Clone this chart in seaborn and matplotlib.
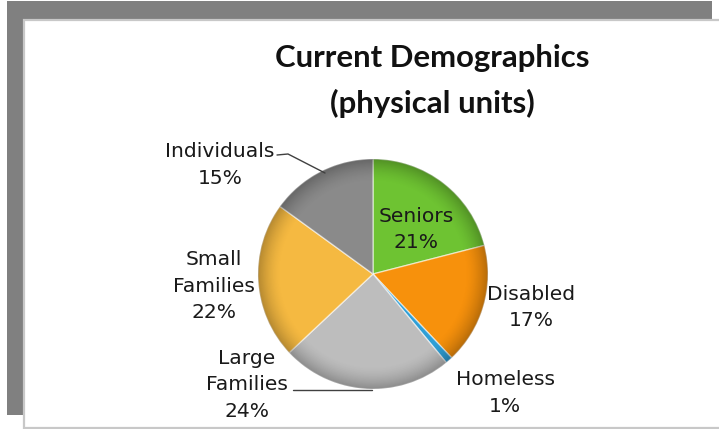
import numpy as np
import matplotlib
matplotlib.use("Agg")
import matplotlib.pyplot as plt
from matplotlib.patches import Rectangle, Circle
import seaborn as sns

# Share of physical units by household type (clockwise from 12 o'clock)
categories = ["Seniors", "Disabled", "Homeless", "Large Families", "Small Families", "Individuals"]
shares = [21, 17, 1, 24, 22, 15]
slice_colors = ["#6ec332", "#f7910c", "#2f9fd6", "#bdbdbd", "#f5b941", "#8a8a8a"]

# label text lines for each slice and where each label block sits (pixel coords)
label_lines = [["Seniors"], ["Disabled"], ["Homeless"], ["Large", "Families"],
               ["Small", "Families"], ["Individuals"]]
label_xy = [(416, 222), (531, 300), (505, 385), (247, 364), (214, 265), (220, 157)]
line_step = 26.5

W, H = 719, 429
sns.set_theme(style="white")
plt.rcParams["font.family"] = ["DejaVu Sans"]

fig = plt.figure(figsize=(W / 100, H / 100), dpi=100)
fig.patch.set_facecolor("white")
ax = fig.add_axes([0, 0, 1, 1])

# slide-style frame: dark grey band on top and left, white panel with a thin border
ax.add_patch(Rectangle((7, 1), 705, 18, facecolor="#808080", edgecolor="none", zorder=0))
ax.add_patch(Rectangle((7, 1), 16, 414, facecolor="#808080", edgecolor="none", zorder=0))
ax.add_patch(Rectangle((23.5, 19.5), 710, 408, facecolor="white", edgecolor="#c8c8c8",
                       linewidth=1.6, zorder=1))

cx, cy, R = 373, 274, 115
wedges, _ = ax.pie(shares, colors=slice_colors, startangle=-90, counterclock=True,
                   radius=R, center=(cx, cy), frame=True,
                   wedgeprops=dict(edgecolor=(1, 1, 1, 0.55), linewidth=1.0, zorder=3))

# soft bevel: darken towards the rim
n = 400
yy, xx = np.mgrid[-1:1:n * 1j, -1:1:n * 1j]
rr = np.hypot(xx, yy)
shade = np.zeros((n, n, 4))
shade[..., 3] = 0.26 * np.clip((rr - 0.80) / 0.20, 0, 1) ** 1.6
clip = Circle((cx, cy), R, transform=ax.transData)
img = ax.imshow(shade, extent=[cx - R, cx + R, cy + R, cy - R], zorder=4, interpolation="bilinear")
img.set_clip_path(clip)

ax.set_xlim(0, W)
ax.set_ylim(H, 0)
ax.set_aspect("auto")
ax.axis("off")

# title
title_font = dict(fontsize=22.4, fontweight="bold", family=["Lato", "DejaVu Sans"], color="#111111")
ax.text(432, 67, "Current Demographics", ha="center", va="baseline", zorder=6, **title_font)
ax.text(432, 113, "(physical units)", ha="center", va="baseline", zorder=6, **title_font)

# slice labels: name lines followed by the percentage
for lines, share, (x, y) in zip(label_lines, shares, label_xy):
    for i, t in enumerate(lines + [f"{share}%"]):
        ax.text(x, y + i * line_step, t, ha="center", va="baseline",
                fontsize=14.6, color="#1a1a1a", zorder=6)

# leader lines for the labels sitting away from their slices
ax.plot([277, 288, 325], [155, 154, 173], color="#404040", linewidth=1.0, zorder=5)
ax.plot([293, 372], [390, 390], color="#404040", linewidth=1.0, zorder=5)

fig.savefig("out.png", dpi=100, facecolor="white")
